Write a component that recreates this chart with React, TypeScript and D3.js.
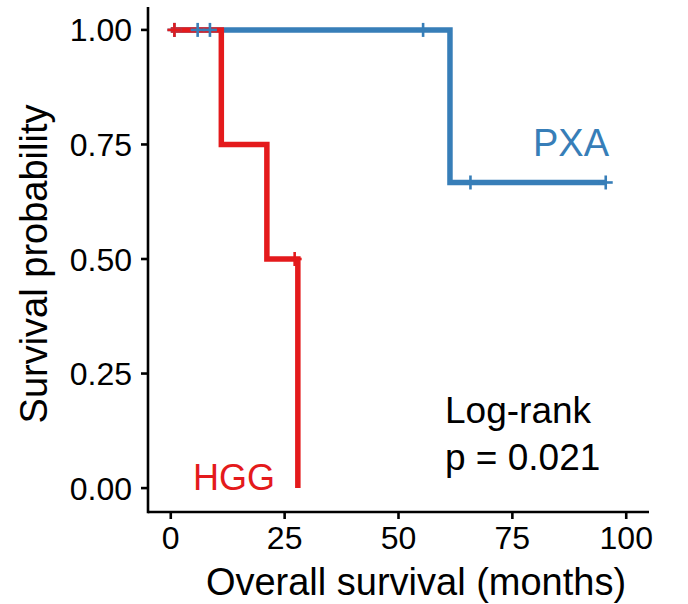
import React from "react";
import * as d3 from "d3";

const W = 688;
const H = 604;

// Kaplan-Meier step data (months, survival probability)
const hggTime = [0, 11.1, 21.1, 27.9];
const hggSurv = [1, 0.75, 0.5, 0];
const hggCensorTime = [0.8, 27.2];
const hggCensorSurv = [1, 0.5];

const pxaTime = [0, 61.3, 95.5];
const pxaSurv = [1, 0.667, 0.667];
const pxaCensorTime = [0.8, 5.9, 8.6, 55.4, 65.8, 95.5];
const pxaCensorSurv = [1, 1, 1, 1, 0.667, 0.667];

const xTicks = [0, 25, 50, 75, 100];
const yTicks = [0, 0.25, 0.5, 0.75, 1];
const yTickLabels = ["0.00", "0.25", "0.50", "0.75", "1.00"];

const RED = "#E41A1C";
const BLUE = "#377EB8";
const FONT = "'Liberation Sans', Arial, Helvetica, sans-serif";

export default function App() {
  const x = d3.scaleLinear().domain([-5, 105]).range([148, 649]);
  const y = d3.scaleLinear().domain([-0.05, 1.05]).range([511, 7]);

  const line = d3
    .line<[number, number]>()
    .x((d) => x(d[0]))
    .y((d) => y(d[1]))
    .curve(d3.curveStepAfter);

  const hggPts: [number, number][] = hggTime.map((t, i) => [t, hggSurv[i]]);
  const pxaPts: [number, number][] = pxaTime.map((t, i) => [t, pxaSurv[i]]);

  const cross = (cx: number, cy: number, color: string, key: string) => (
    <g key={key} stroke={color} strokeWidth={2.6}>
      <line x1={cx - 7} x2={cx + 7} y1={cy} y2={cy} />
      <line x1={cx} x2={cx} y1={cy - 7} y2={cy + 7} />
    </g>
  );

  const [x0, x1] = x.range();
  const [y0, y1] = y.range();

  return (
    <svg width={W} height={H} style={{ position: "absolute", left: 0, top: 0, background: "#fff" }}>
      <rect width={W} height={H} fill="#fff" />
      {/* curves */}
      <path d={line(pxaPts) ?? ""} fill="none" stroke={BLUE} strokeWidth={5.5} />
      <path d={line(hggPts) ?? ""} fill="none" stroke={RED} strokeWidth={5.5} />
      {/* censor marks */}
      {pxaCensorTime.map((t, i) => cross(x(t), y(pxaCensorSurv[i]), BLUE, "p" + i))}
      {hggCensorTime.map((t, i) => cross(x(t), y(hggCensorSurv[i]), RED, "h" + i))}

      {/* axes */}
      <line x1={x0} x2={x1} y1={y0 + 1} y2={y0 + 1} stroke="#000" strokeWidth={2.6} />
      <line x1={x0} x2={x0} y1={y1} y2={y0 + 2.3} stroke="#000" strokeWidth={2.6} />
      {xTicks.map((t) => (
        <g key={"xt" + t}>
          <line x1={x(t)} x2={x(t)} y1={y0 + 1} y2={y0 + 8} stroke="#000" strokeWidth={2.6} />
          <text x={x(t)} y={549} textAnchor="middle" fontFamily={FONT} fontSize={32} fill="#000">
            {t}
          </text>
        </g>
      ))}
      {yTicks.map((v, i) => (
        <g key={"yt" + v}>
          <line x1={x0 - 7} x2={x0} y1={y(v)} y2={y(v)} stroke="#000" strokeWidth={2.6} />
          <text
            x={132}
            y={y(v)}
            dy="0.36em"
            textAnchor="end"
            fontFamily={FONT}
            fontSize={32}
            fill="#000"
          >
            {yTickLabels[i]}
          </text>
        </g>
      ))}

      {/* axis titles */}
      <text x={416} y={595} textAnchor="middle" fontFamily={FONT} fontSize={38} fill="#000">
        Overall survival (months)
      </text>
      <text
        transform="translate(47,264) rotate(-90)"
        textAnchor="middle"
        fontFamily={FONT}
        fontSize={38}
        fill="#000"
      >
        Survival probability
      </text>

      {/* annotations */}
      <text x={533} y={156} fontFamily={FONT} fontSize={38} fill={BLUE}>
        PXA
      </text>
      <text x={193} y={490} fontFamily={FONT} fontSize={36} fill={RED}>
        HGG
      </text>
      <text x={445} y={423} fontFamily={FONT} fontSize={37} fill="#000">
        Log-rank
      </text>
      <text x={445} y={470} fontFamily={FONT} fontSize={37} fill="#000">
        p = 0.021
      </text>
    </svg>
  );
}
